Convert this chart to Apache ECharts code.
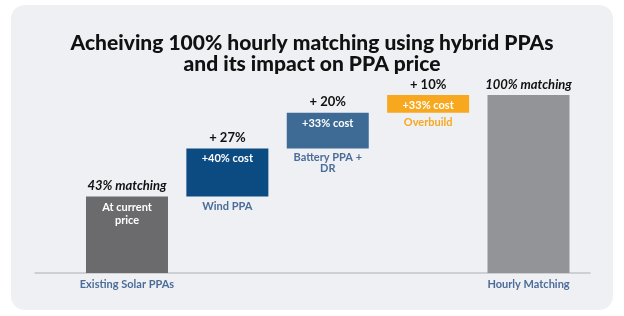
<!DOCTYPE html>
<html>
<head>
<meta charset="utf-8">
<script src="https://cdn.jsdelivr.net/npm/echarts@6/dist/echarts.min.js"></script>
<style>
html,body{margin:0;padding:0;background:#fff;}
#c{width:624px;height:316px;}
</style>
</head>
<body>
<div id="c"></div>
<script>
const categories = ['Existing Solar PPAs', 'Wind PPA', 'Battery PPA +\nDR', 'Overbuild', 'Hourly Matching'];
const baseValues = [0, 43, 70, 90, 0];
const stepValues = [43, 27, 20, 10, 100];
const topLabels = ['43% matching', '+ 27%', '+ 20%', '+ 10%', '100% matching'];
const innerLabels = ['At current\nprice', '+40% cost', '+33% cost', '+33% cost', ''];
const barColors = ['#6b6b6e', '#0c4a82', '#3e6a96', '#f7a81e', '#939497'];
const nameColors = ['#4a6c99', '#4a6c99', '#4a6c99', '#f7a81e', '#4a6c99'];
const showAxisName = [true, false, false, false, true];
const italicTop = [true, false, false, false, true];

const chart = echarts.init(document.getElementById('c'), null, {renderer: 'canvas'});
const FONT = 'Lato, "Noto Sans", sans-serif';

chart.setOption({
  animation: false,
  backgroundColor: '#ffffff',
  graphic: [{
    type: 'rect', z: -10,
    shape: {x: 11, y: 5, width: 602, height: 305, r: 14},
    style: {fill: '#eff0f4'}
  }],
  title: {
    text: 'Acheiving 100% hourly matching using hybrid PPAs\nand its impact on PPA price',
    left: 'center', top: 28,
    textStyle: {fontFamily: FONT, fontWeight: 900, fontSize: 21, lineHeight: 21, color: '#111'}
  },
  grid: [
    {left: 76.8, right: 45.3, top: 95, bottom: 43},
    {left: 35, right: 34, top: 95, bottom: 43}
  ],
  xAxis: [
    {
      type: 'category', gridIndex: 0, data: categories,
      axisLine: {show: false}, axisTick: {show: false},
      axisLabel: {
        margin: 6, interval: 0,
        fontFamily: FONT, fontSize: 11, fontWeight: 'bold', color: '#4a6c99',
        formatter: (v, i) => showAxisName[i] ? v : ''
      }
    },
    {
      type: 'category', gridIndex: 1, data: [''],
      axisLine: {show: true, lineStyle: {color: '#c3c3c8', width: 1.5}},
      axisTick: {show: false}, axisLabel: {show: false}
    }
  ],
  yAxis: [
    {type: 'value', gridIndex: 0, min: 0, max: 100, show: false},
    {type: 'value', gridIndex: 1, min: 0, max: 100, show: false}
  ],
  series: [
    {
      type: 'bar', stack: 'a', barWidth: 82, barGap: '-100%',
      data: baseValues.map((v, i) => ({
        value: v,
        label: {
          show: !showAxisName[i], position: 'insideTop', distance: 4,
          formatter: () => categories[i], color: nameColors[i],
          fontFamily: FONT, fontSize: 11, fontWeight: 'bold', lineHeight: 11
        }
      })),
      itemStyle: {color: 'transparent'}, silent: true
    },
    {
      type: 'bar', stack: 'a', barWidth: 82,
      data: stepValues.map((v, i) => ({
        value: v,
        itemStyle: {color: barColors[i]},
        label: {
          show: true, position: 'insideTop', distance: 4,
          formatter: () => innerLabels[i], color: '#ffffff',
          fontFamily: FONT, fontSize: 11, fontWeight: 'bold', lineHeight: 13
        }
      }))
    },
    {
      type: 'bar', stack: 'b', barWidth: 82,
      data: baseValues, itemStyle: {color: 'transparent'}, silent: true
    },
    {
      type: 'bar', stack: 'b', barWidth: 82,
      data: stepValues.map((v, i) => ({
        value: v,
        label: {
          show: true, position: 'top', distance: 4,
          formatter: () => topLabels[i], color: '#111',
          fontFamily: FONT, fontSize: 13, fontWeight: 'bold',
          fontStyle: italicTop[i] ? 'italic' : 'normal'
        }
      })),
      itemStyle: {color: 'transparent'}, silent: true
    }
  ]
});
</script>
</body>
</html>
